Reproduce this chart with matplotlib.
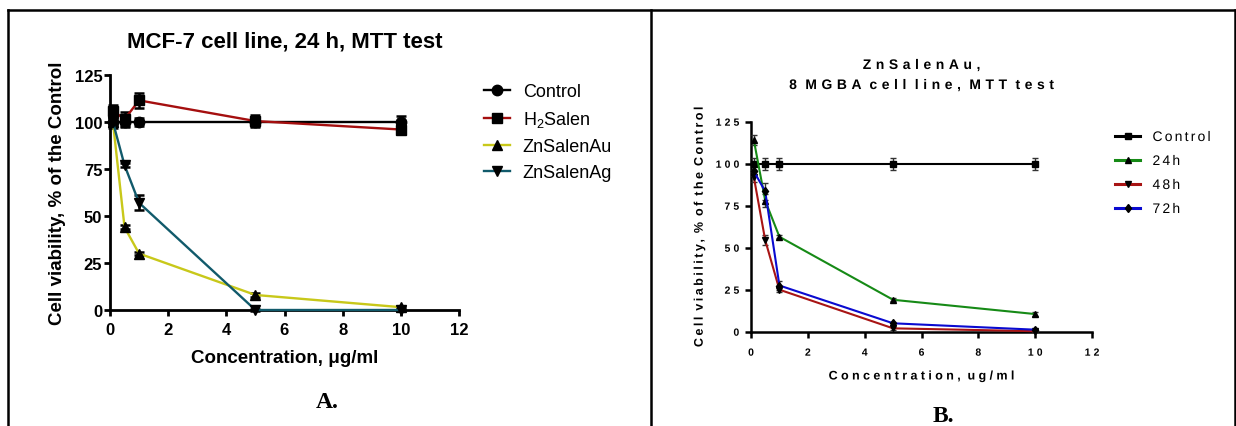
import numpy as np
import matplotlib
matplotlib.use("Agg")
import matplotlib.pyplot as plt
from matplotlib.path import Path
from matplotlib.patheffects import AbstractPathEffect
from matplotlib.lines import Line2D

plt.rcParams['font.family'] = ['Liberation Sans', 'DejaVu Sans']
plt.rcParams['mathtext.fontset'] = 'custom'
plt.rcParams['mathtext.rm'] = 'Liberation Sans'
plt.rcParams['mathtext.it'] = 'Liberation Sans:italic'
plt.rcParams['mathtext.bf'] = 'Liberation Sans:bold'
plt.rcParams['mathtext.default'] = 'regular'

# ---- Panel A: MCF-7, 24 h ----
conc_a = [0.1, 0.5, 1, 5, 10]
control_a = [100, 100, 100, 100, 100]
control_a_err = [3, 2, 2, 2, 3]
h2salen = [106, 101.5, 111.5, 100.5, 96]
h2salen_err = [3, 4, 4, 3, 2.5]
znsalenau_a = [100, 44, 30, 8, 1.5]
znsalenau_a_err = [2, 1, 1, 1, 0.5]
znsalenag = [100, 77, 57, 0, 0]
znsalenag_err = [2, 1, 4, 0.5, 0.5]
labels_a = ["Control", "H$_2$Salen", "ZnSalenAu", "ZnSalenAg"]

# ---- Panel B: ZnSalenAu on 8 MGBA ----
conc_b = [0.1, 0.5, 1, 5, 10]
control_b = [100, 100, 100, 100, 100]
control_b_err = [3.5, 3.5, 3.5, 3.5, 3.5]
h24 = [114, 78, 56.5, 19, 10.5]
h24_err = [3, 4, 1, 1, 1]
h48 = [92, 54.5, 25, 2, 0.3]
h48_err = [3, 3, 1.5, 1, 0.5]
h72 = [95.5, 83.5, 27.5, 5, 1.2]
h72_err = [3, 5, 2.5, 1, 0.5]
labels_b = ["Control", "24h", "48h", "72h"]

xticks = [0, 2, 4, 6, 8, 10, 12]
yticks = [0, 25, 50, 75, 100, 125]


class Tracking(AbstractPathEffect):
    """Letter-spaced text: glyph outlines are pushed apart by `track` em."""

    def __init__(self, track=0.2, align='center'):
        super().__init__()
        self._track = track
        self._align = align

    def _spread(self, tpath):
        codes = tpath.codes
        if codes is None or len(tpath.vertices) == 0:
            return tpath
        verts = np.array(tpath.vertices, dtype=float)
        starts = np.flatnonzero(codes == Path.MOVETO)
        if len(starts) == 0:
            return tpath
        ends = np.append(starts[1:], len(codes))
        real = codes != Path.CLOSEPOLY
        spans = []
        for s, e in zip(starts, ends):
            xs = verts[s:e, 0][real[s:e]]
            if len(xs) == 0:
                continue
            spans.append((xs.min(), xs.max(), s, e))
        spans.sort(key=lambda t: t[0])
        clusters = []
        for x0, x1, s, e in spans:
            if clusters and x0 < clusters[-1][1] - 1.0:
                clusters[-1][1] = max(clusters[-1][1], x1)
                clusters[-1][2].append((s, e))
            else:
                clusters.append([x0, x1, [(s, e)]])
        n = len(clusters)
        off = {'left': 0.0, 'center': (n - 1) / 2.0, 'right': n - 1.0}[self._align]
        step = self._track * 100.0  # glyph outlines use 100 units per em
        for k, (_, _, members) in enumerate(clusters):
            for s, e in members:
                verts[s:e, 0] += (k - off) * step
        return Path(verts, codes)

    def draw_path(self, renderer, gc, tpath, affine, rgbFace=None):
        renderer.draw_path(gc, self._spread(tpath), affine, rgbFace)


W, H = 1236, 427
fig = plt.figure(figsize=(W / 100, H / 100), dpi=100)


def fx(px):
    return px / W


def fy(py):
    return 1 - py / H


def draw_series(ax, x, y, err, color, marker, label, lw, ms, elw, cap, ecolor):
    eb = ax.errorbar(x, y, yerr=err, fmt='none', ecolor=ecolor, elinewidth=elw,
                     capsize=cap, capthick=elw, zorder=3)
    for art in list(eb.lines[1]) + list(eb.lines[2]):
        art.set_clip_on(False)
    ax.plot(x, y, color=color, lw=lw, marker=marker, ms=ms, mfc='black',
            mec='black', label=label, clip_on=False, zorder=4)


def style_axes(ax, spine_w, tick_len, tick_size, xpad, ypad):
    ax.set_xlim(0, 12)
    ax.set_ylim(0, 125)
    ax.set_xticks(xticks)
    ax.set_yticks(yticks)
    for s in ['top', 'right']:
        ax.spines[s].set_visible(False)
    for s in ['left', 'bottom']:
        ax.spines[s].set_linewidth(spine_w)
    ax.tick_params(width=spine_w, length=tick_len, labelsize=tick_size)
    ax.tick_params(axis='x', pad=xpad)
    ax.tick_params(axis='y', pad=ypad)
    for lbl in ax.get_xticklabels() + ax.get_yticklabels():
        lbl.set_fontweight('bold')
    ax.set_facecolor('none')


# ---------------- Panel A ----------------
ax_a = fig.add_axes([fx(110), fy(311), (459 - 110) / W, (311 - 76) / H])
series_a = [
    (control_a, control_a_err, 'black', 'o'),
    (h2salen, h2salen_err, '#a50f0f', 's'),
    (znsalenau_a, znsalenau_a_err, '#c8c81a', '^'),
    (znsalenag, znsalenag_err, '#115a6b', 'v'),
]
for (y, err, color, marker), label in zip(series_a, labels_a):
    draw_series(ax_a, conc_a, y, err, color, marker, label,
                lw=1.7, ms=7.5, elw=1.8, cap=3.5, ecolor='black')
style_axes(ax_a, 2.0, 4, 12, 4.5, 1.5)

ax_a.set_title("MCF-7 cell line, 24 h, MTT test", fontsize=16, fontweight='bold',
               y=1 + (76 - 42) / 235, va='center', pad=0)
ax_a.set_xlabel("Concentration, μg/ml", fontsize=13.5, fontweight='bold')
ax_a.xaxis.set_label_coords(0.5, (311 - 358.5) / 235)
ax_a.xaxis.label.set_va('center')
ax_a.set_ylabel("Cell viability, % of the Control", fontsize=13.5, fontweight='bold')
ax_a.yaxis.set_label_coords((57 - 110) / 349, 0.5)
ax_a.yaxis.label.set_va('center')

ax_a.legend(loc='upper left', bbox_to_anchor=(fx(484), fy(84)),
            bbox_transform=fig.transFigure, frameon=False, fontsize=13,
            handlelength=1.45, handletextpad=0.7, labelspacing=0.5,
            borderpad=0, borderaxespad=0)

# ---------------- Panel B ----------------
ax_b = fig.add_axes([fx(751), fy(332.7), (1092 - 751) / W, (332.7 - 122.7) / H])
series_b = [
    (control_b, control_b_err, 'black', 's', 4.5),
    (h24, h24_err, '#168a16', '^', 5),
    (h48, h48_err, '#a81414', 'v', 5),
    (h72, h72_err, '#0a0ad0', 'd', 4.5),
]
for (y, err, color, marker, ms), label in zip(series_b, labels_b):
    draw_series(ax_b, conc_b, y, err, color, marker, label,
                lw=1.5, ms=ms, elw=1.0, cap=2, ecolor='#333333')
style_axes(ax_b, 1.8, 4.5, 7.5, 7, 4)

for lbl in ax_b.get_xticklabels():
    lbl.set_path_effects([Tracking(0.3, 'center')])
for lbl in ax_b.get_yticklabels():
    lbl.set_path_effects([Tracking(0.3, 'right')])

title_b = ax_b.set_title("ZnSalenAu,\n8 MGBA cell line, MTT test", fontsize=10,
                         fontweight='bold', y=1 + (122.7 - 76) / 210, va='center',
                         pad=0, linespacing=1.55)
title_b.set_path_effects([Tracking(0.33, 'center')])
ax_b.set_xlabel("Concentration, ug/ml", fontsize=9, fontweight='bold')
ax_b.xaxis.set_label_coords(0.5, (332.7 - 377.5) / 210)
ax_b.xaxis.label.set_va('center')
ax_b.xaxis.label.set_path_effects([Tracking(0.27, 'center')])
ax_b.set_ylabel("Cell viability, % of the Control", fontsize=9, fontweight='bold')
ax_b.yaxis.set_label_coords((699.7 - 751) / 341, 0.5)
ax_b.yaxis.label.set_va('center')
ax_b.yaxis.label.set_path_effects([Tracking(0.2, 'center')])

leg_b = ax_b.legend(loc='upper left', bbox_to_anchor=(fx(1115), fy(131)),
                    bbox_transform=fig.transFigure, frameon=False, fontsize=10,
                    handlelength=1.8, handletextpad=0.9, labelspacing=0.72,
                    borderpad=0, borderaxespad=0)
for h in leg_b.legend_handles:
    h.set_linewidth(2.2)
for t in leg_b.get_texts():
    t.set_path_effects([Tracking(0.16, 'left')])

# ---------------- Panel letters and table frame ----------------
fig.text(fx(327), fy(403), "A.", family='Liberation Serif', fontweight='bold',
         fontsize=17, ha='center', va='center')
fig.text(fx(943), fy(417), "B.", family='Liberation Serif', fontweight='bold',
         fontsize=17, ha='center', va='center')

frame = dict(color='black', lw=1.8, transform=fig.transFigure, clip_on=False)
fig.add_artist(Line2D([fx(8), fx(1236)], [fy(11), fy(11)], **frame))
fig.add_artist(Line2D([fx(8), fx(8)], [fy(11), 0], **frame))
fig.add_artist(Line2D([fx(650.5), fx(650.5)], [fy(11), 0], **frame))
fig.add_artist(Line2D([fx(1234.5), fx(1234.5)], [fy(11), 0], **frame))

fig.savefig("out.png", dpi=100)
